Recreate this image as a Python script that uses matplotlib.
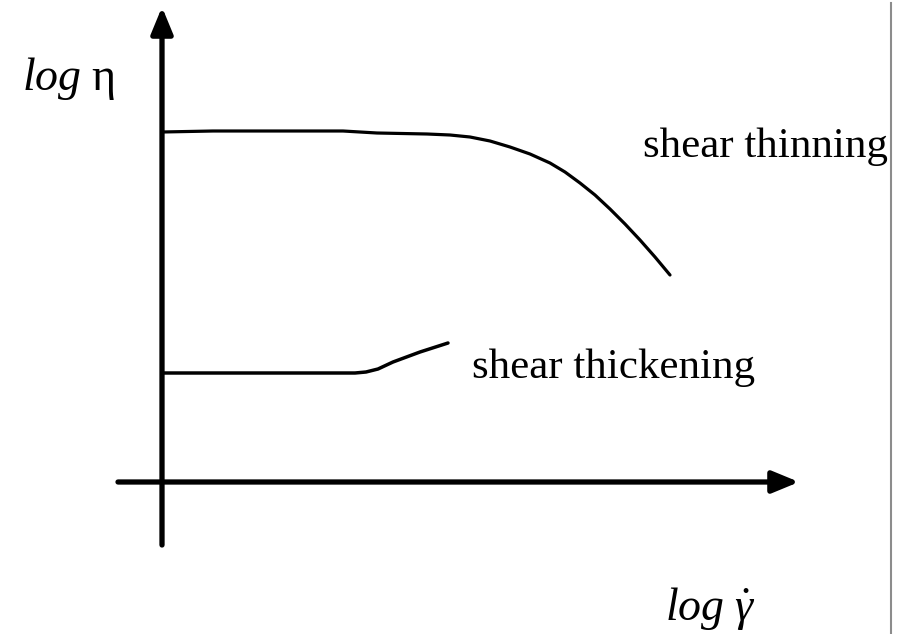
import matplotlib.pyplot as plt

plt.rcParams['mathtext.fontset'] = 'custom'
plt.rcParams['mathtext.rm'] = 'Liberation Serif'
plt.rcParams['mathtext.it'] = 'Liberation Serif:italic'

# Sketch curves, in drawing units (x grows right, y grows down)
thinning_x = [162, 213, 343, 377, 427, 450, 470, 490, 510, 530, 550, 565,
              580, 595, 610, 625, 640, 655, 670]
thinning_y = [132, 131, 131, 133, 134, 135, 137, 141, 147, 154, 163, 172,
              183, 195, 209, 224, 240, 257, 275]

thickening_x = [162, 355, 366, 378, 393, 420, 448]
thickening_y = [373, 373, 372, 369, 362, 352, 343]

labels = ['shear thinning', 'shear thickening']

fig = plt.figure(figsize=(8.98, 6.34), dpi=100)
ax = fig.add_axes([0, 0, 1, 1])
ax.set_xlim(0, 898)
ax.set_ylim(634, 0)
ax.axis('off')

# Axes arrows
arrow = dict(arrowstyle='-|>,head_length=0.8,head_width=0.33', lw=3.8,
             color='black', mutation_scale=20, shrinkA=0, shrinkB=0,
             capstyle='round')
ax.annotate('', xy=(162, 7), xytext=(162, 545), arrowprops=arrow)
ax.annotate('', xy=(799, 482), xytext=(118, 482), arrowprops=arrow)

ax.plot(thinning_x, thinning_y, color='black', lw=2.3,
        solid_capstyle='round', solid_joinstyle='round')
ax.plot(thickening_x, thickening_y, color='black', lw=2.5,
        solid_capstyle='round', solid_joinstyle='round')

font = dict(family='Liberation Serif', size=31, color='black', va='baseline')
ax.text(643, 157, labels[0], **font)
ax.text(472, 378, labels[1], **font)

ax.text(22, 90, r'$\mathit{log}\ \mathrm{\eta}$', fontsize=33, va='baseline')
ax.text(665, 620, r'$\mathit{log}\ \dot{\gamma}$', fontsize=33, va='baseline')

# page edge on the right
ax.plot([891, 891], [3, 634], color='#8c8c8c', lw=1.5)

fig.savefig('out.png', dpi=100)
